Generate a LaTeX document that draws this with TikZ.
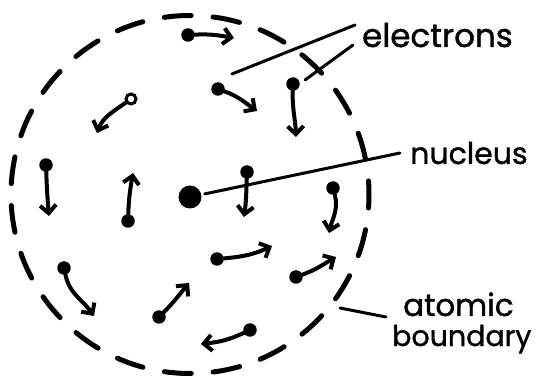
\documentclass[tikz,border=0pt]{standalone}
\usepackage{fontspec}
\setmainfont{Poppins}[FakeBold=1.2]
\usetikzlibrary{arrows.meta}
\begin{document}
\begin{tikzpicture}[x=1pt,y=-1pt,
  electron/.style={circle,fill=black,inner sep=0pt,minimum size=13.5pt},
  hollowe/.style={circle,draw=black,line width=3pt,fill=white,inner sep=0pt,minimum size=10pt},
  nucl/.style={circle,fill=black,inner sep=0pt,minimum size=23pt},
  motion/.style={line width=4pt,line cap=round,line join=round,-{Straight Barb[length=8pt,width=16pt]}},
  leader/.style={line width=3pt,line cap=round},
  boundary/.style={line width=5pt,line cap=round,dash pattern=on 27pt off 21.9pt,dash phase=13.5pt},
  lbl/.style={font=\fontsize{31}{29}\selectfont,inner sep=0pt,anchor=base west}
]
\useasboundingbox (0,0) rectangle (539,377);
% atomic boundary
\draw[boundary] (190,194.5) circle[radius=179];
% nucleus
\node[nucl] (nuc) at (190,197) {};
% electrons
\node[electron] (e1) at (188,35) {};
\node[electron] (e2) at (218,89) {};
\node[electron] (e3) at (293,84) {};
\node[hollowe] (e4) at (131,99) {};
\node[electron] (e5) at (46,165) {};
\node[electron] (e6) at (128,221) {};
\node[electron] (e7) at (247,172) {};
\node[electron] (e8) at (333,188) {};
\node[electron] (e9) at (217,259) {};
\node[electron] (e10) at (296,277) {};
\node[electron] (e11) at (64,268) {};
\node[electron] (e12) at (159,317) {};
\node[electron] (e13) at (250,330) {};
% arrow ends
\coordinate (t1) at (234,38);
\coordinate (t2) at (257,111);
\coordinate (t3) at (296,137);
\coordinate (t4) at (97,133);
\coordinate (t5) at (49,216);
\coordinate (t6) at (133,173);
\coordinate (t7) at (244,217);
\coordinate (t8) at (329,233);
\coordinate (t9) at (272,246);
\coordinate (t10) at (336,257);
\coordinate (t11) at (94,316);
\coordinate (t12) at (189,283);
\coordinate (t13) at (201,344);
\draw[motion] (e1) to[out=3,in=-190] (t1);
\draw[motion] (e2) to[out=-20,in=-215] (t2);
\draw[motion] (e3) to[out=-92,in=-268] (t3);
\draw[motion] (e4) to[out=-145,in=-290] (t4);
\draw[motion] (e5) to[out=-88,in=-265] (t5);
\draw[motion] (e6) to[out=-272,in=-100] (t6);
\draw[motion] (e7) to[out=-92,in=-278] (t7);
\draw[motion] (e8) to[out=-75,in=-283] (t8);
\draw[motion] (e9) to[out=5,in=-155] (t9);
\draw[motion] (e10) to[out=20,in=-150] (t10);
\draw[motion] (e11) to[out=-78,in=-235] (t11);
\draw[motion] (e12) to[out=45,in=-130] (t12);
\draw[motion] (e13) to[out=-155,in=-354] (t13);
% labels
\node[lbl,font=\fontsize{32.5}{29}\selectfont] (lelec) at (362,47) {electrons};
\node[lbl,font=\fontsize{30}{29}\selectfont] (lnuc) at (410,164) {nucleus};
\node[lbl] (latom) at (403,316) {atomic};
\node[lbl,font=\fontsize{28.5}{29}\selectfont] (lbound) at (392,346) {boundary};
% leader lines
\coordinate (a1) at (355,25);
\coordinate (b1) at (232,74);
\coordinate (a2) at (353,45);
\coordinate (b2) at (305,80);
\coordinate (a3) at (400,153);
\coordinate (a4) at (386,317);
\coordinate (b4) at (340,308);
\draw[leader] (a1) -- (b1);
\draw[leader] (a2) -- (b2);
\draw[leader,shorten <=15pt] (nuc.center) -- (a3);
\draw[leader] (a4) -- (b4);
\end{tikzpicture}
\end{document}
